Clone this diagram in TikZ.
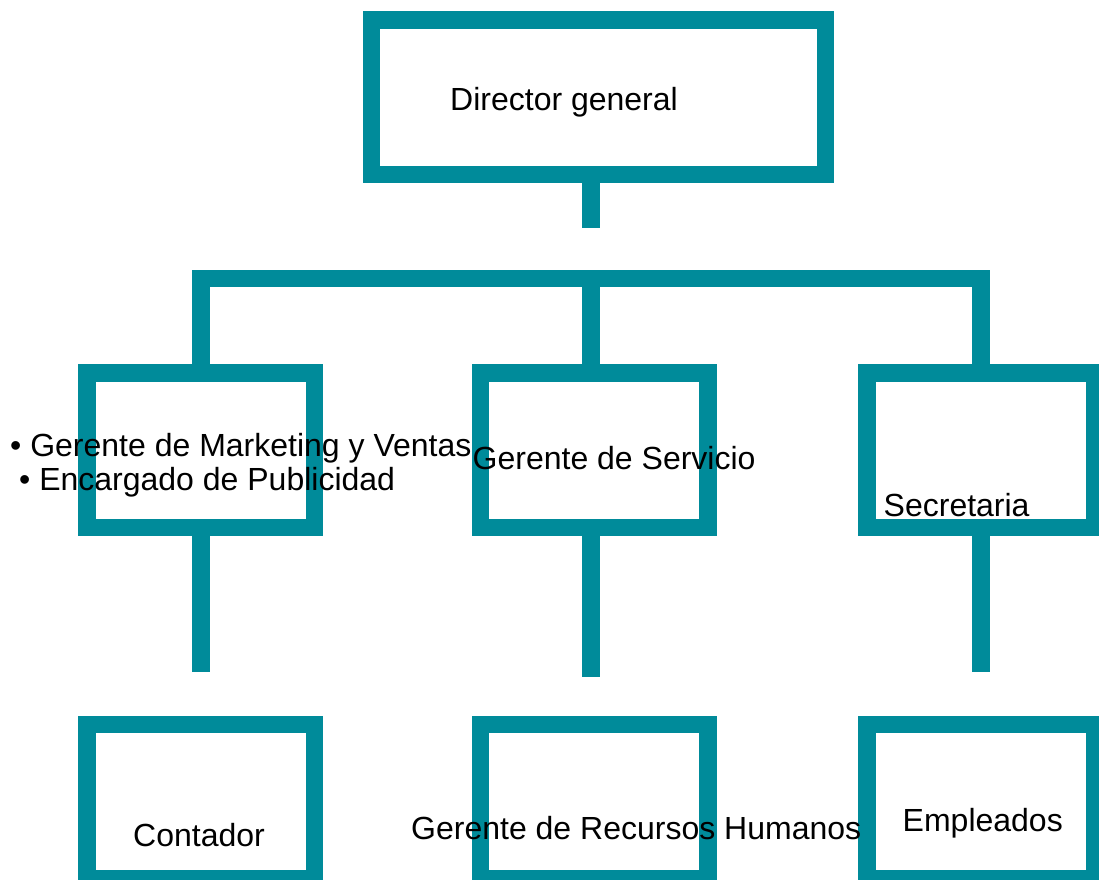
\documentclass[tikz,border=0pt]{standalone}
\usepackage{fontspec}
\setmainfont{Liberation Sans}
\usetikzlibrary{calc}
\definecolor{orgteal}{RGB}{0,139,154}

\begin{document}
\begin{tikzpicture}[x=1pt, y=-1pt,
box/.style={draw=orgteal, line width=17.5pt, rectangle, inner sep=0pt,
minimum width=227.5pt, minimum height=154.5pt},
lbl/.style={inner sep=0pt, anchor=base west, font=\fontsize{32}{38}\selectfont},
link/.style={draw=orgteal, line width=17.5pt, line join=miter}]
\clip (0,0) rectangle (1099,879);
\node[box, minimum width=454pt] (dir) at (598.5,97) {};
\node[box] (mkt) at (200.8,450.4) {};
\node[box] (srv) at (594.2,450.4) {};
\node[box] (sec) at (980.9,450.4) {};
\node[box] (cont) at (200.8,801.7) {};
\node[box] (rrhh) at (594.2,801.7) {};
\node[box] (emp) at (980.9,801.7) {};
\coordinate (d1) at (590.9,227.7);
\coordinate (bl) at (200.8,278.7);
\coordinate (bm) at (590.9,278.7);
\coordinate (br) at (980.9,278.7);
\coordinate (c1) at (200.8,671.7);
\coordinate (c2) at (590.9,677.3);
\coordinate (c3) at (980.9,671.7);
\draw[link] (d1 |- dir.south) -- (d1);
\draw[link] (mkt.north) -- (bl) -- (br) -- (sec.north);
\draw[link] (bm) -- (bm |- srv.north);
\foreach \i/\j in {mkt/c1, srv/c2, sec/c3}{
\draw[link] (\j |- \i.south) -- (\j);}
\node[lbl] (tdir) at (450,110) {Director general};
\node[lbl] (tmkt1) at (10,456.7) {• Gerente de Marketing y Ventas};
\node[lbl] (tmkt2) at (19,490.7) {• Encargado de Publicidad};
\node[lbl] (tsrv) at (472.5,469.3) {Gerente de Servicio};
\node[lbl] (tsec) at (883.5,516) {Secretaria};
\node[lbl] (tcont) at (133,846) {Contador};
\node[lbl] (trrhh) at (411,839) {Gerente de Recursos Humanos};
\node[lbl] (temp) at (902.5,831.7) {Empleados};
\end{tikzpicture}
\end{document}
